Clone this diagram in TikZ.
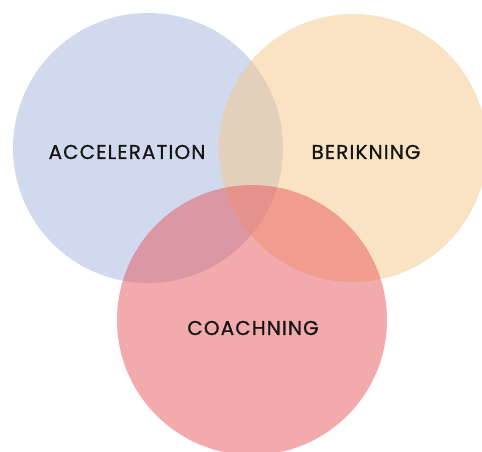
\documentclass[tikz,border=0pt]{standalone}
\usepackage{fontspec}
\setmainfont{Poppins}[LetterSpace=5.5,FakeBold=0.8]
\definecolor{cblue}{RGB}{163,180,220}
\definecolor{corange}{RGB}{247,200,137}
\definecolor{cpink}{RGB}{231,87,91}
\tikzset{
  venn/.style={fill opacity=0.5, draw=none},
  lbl/.style={font=\fontsize{20}{23}\selectfont, text=black!92}
}
\begin{document}
\begin{tikzpicture}[x=1pt,y=-1pt]
\clip (0,0) rectangle (482,452);
\fill[white] (0,0) rectangle (482,452);
\fill[venn, cblue] (148,148) circle[radius=135];
\fill[venn, corange] (353,148) circle[radius=134];
\fill[venn, cpink] (252,320) circle[radius=135];
\node[lbl] (acc) at (127,152) {ACCELERATION};
\node[lbl] (ber) at (366,152) {BERIKNING};
\node[lbl] (coa) at (253,328) {COACHNING};
\end{tikzpicture}
\end{document}
